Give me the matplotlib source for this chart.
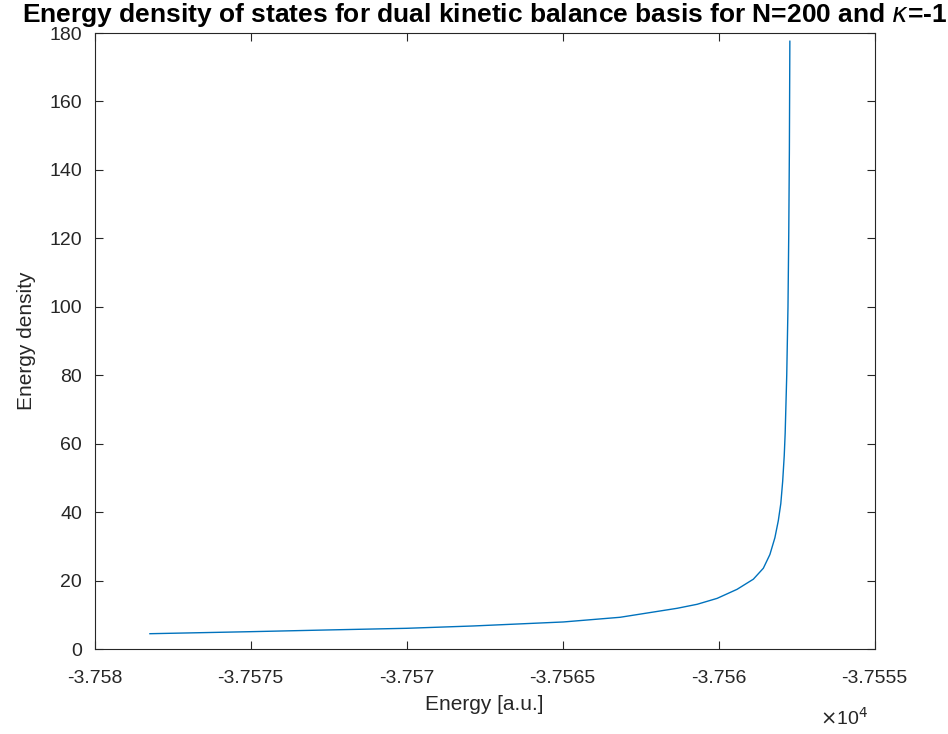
import matplotlib
matplotlib.use("Agg")
import matplotlib.pyplot as plt
from matplotlib.ticker import FuncFormatter

plt.rcParams['font.family'] = ['Liberation Sans', 'DejaVu Sans']
plt.rcParams['mathtext.fontset'] = 'dejavusans'

# energies [a.u.] and density
energy = [-37578.23, -37575.02, -37572.56, -37570.0, -37567.87, -37564.98,
          -37563.16, -37561.33, -37560.69, -37560.05, -37559.41, -37558.89,
          -37558.57, -37558.36, -37558.20, -37558.09, -37558.01, -37557.95,
          -37557.90, -37557.87, -37557.82, -37557.78, -37557.755, -37557.735,
          -37557.72]
density = [4.47, 5.06, 5.56, 6.05, 6.73, 7.9,
           9.27, 11.9, 13.07, 14.8, 17.45, 20.4,
           23.6, 27.6, 32.5, 37.5, 42.5, 49.0,
           56.5, 63.1, 80.0, 100.0, 121.6, 146.0,
           177.6]

xticks = [-37580, -37575, -37570, -37565, -37560, -37555]
yticks = [0, 20, 40, 60, 80, 100, 120, 140, 160, 180]

fig = plt.figure(figsize=(9.48, 7.34), dpi=100)
ax = fig.add_axes([0.0999, 0.1158, 0.8228, 0.8392])
ax.plot(energy, density, color='#0072BD', linewidth=1.0)

ax.set_xlim(-37580, -37555)
ax.set_ylim(0, 180)
ax.set_xticks(xticks)
ax.set_yticks(yticks)
ax.xaxis.set_major_formatter(FuncFormatter(lambda v, p: '{:g}'.format(round(v / 1e4, 6))))
ax.tick_params(direction='in', top=True, right=True, labelsize=14,
               colors='#262626', length=6, width=0.8)
ax.tick_params(axis='x', pad=15)
ax.tick_params(axis='y', pad=9)
for s in ax.spines.values():
    s.set_color('#262626')
    s.set_linewidth(0.8)

ax.set_xlabel('Energy [a.u.]', fontsize=15, color='#262626')
ax.xaxis.set_label_coords(0.5, -0.075)
ax.set_ylabel('Energy density', fontsize=15, color='#262626')
ax.yaxis.set_label_coords(-0.075, 0.5)
ax.set_title(r'Energy density of states for dual kinetic balance basis for N=200 and $\kappa$=-1',
             fontsize=19, fontweight='bold', pad=8)
fig.text(0.865, 0.0123, r'$\times$10$^4$', fontsize=14, color='#262626', va='baseline')

fig.savefig('out.png', dpi=100)
